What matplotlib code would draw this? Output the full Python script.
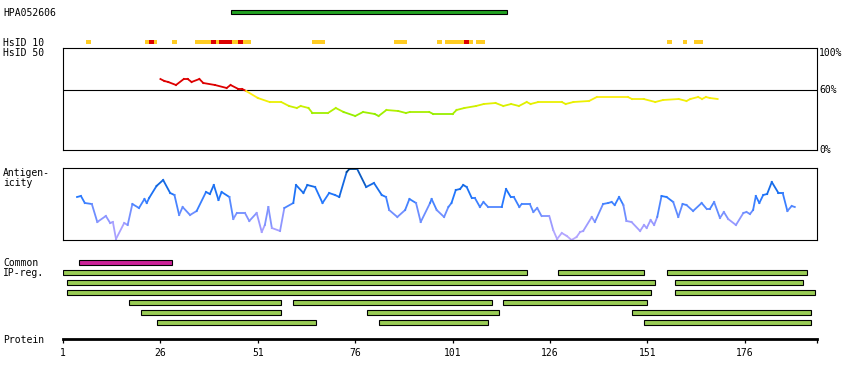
import matplotlib
matplotlib.use("Agg")
import matplotlib.pyplot as plt
import numpy as np
from matplotlib.collections import LineCollection
from matplotlib.colors import LinearSegmentedColormap

W, H = 850, 380
PLOT_L, PLOT_R = 63, 817
x_end = 194.5

hpa_name = "HPA052606"
hpa_range = (44, 115)

# HsID 10 windows, one block per residue
hsid10_yellow = [7, 22, 24, 29, 35, 36, 37, 38, 40, 44, 45, 47, 48, 65, 66, 67,
                 86, 87, 88, 97, 99, 100, 101, 102, 103, 105, 107, 108, 156, 160, 163, 164]
hsid10_red = [23, 39, 41, 42, 43, 46, 104]

# HsID 50 profile (% identity)
hsid50_pos = [26, 27, 28, 30, 32, 33, 34, 36, 37, 40, 43, 44, 46, 47, 48, 51, 54, 57, 59, 61,
              62, 64, 65, 69, 71, 73, 76, 78, 81, 82, 84, 87, 89, 90, 95, 96, 101, 102, 104, 107,
              109, 112, 114, 116, 118, 120, 121, 123, 129, 130, 132, 136, 138, 146, 147, 150, 153, 155, 159, 161,
              162, 164, 165, 166, 167, 169]
hsid50_val = [71, 69, 68, 65, 71, 71, 68, 71, 67, 65, 62, 65, 61, 61, 59, 52, 48, 48, 44, 42,
              44, 42, 37, 37, 42, 38, 34, 38, 36, 34, 40, 39, 37, 38, 38, 36, 36, 40, 42, 44,
              46, 47, 44, 46, 44, 48, 46, 48, 48, 46, 48, 49, 53, 53, 51, 51, 48, 50, 51, 49,
              51, 53, 51, 53, 52, 51]

# antigenicity profile (arbitrary units)
antigen_pos = [4.6, 5.6, 6.6, 8.4, 9.8, 12.0, 13.1, 13.8, 14.6, 16.7,
               17.6, 18.8, 20.5, 21.9, 22.5, 23.1, 25.0, 26.7, 28.5, 29.6,
               30.8, 31.7, 33.6, 35.3, 37.7, 38.7, 39.7, 40.9, 41.7, 43.7,
               44.7, 45.6, 47.7, 48.8, 50.7, 52.0, 52.8, 53.7, 54.6, 56.7,
               57.8, 60.1, 60.8, 62.7, 63.7, 65.7, 67.6, 69.3, 70.8, 71.9,
               73.8, 74.5, 76.5, 78.8, 80.8, 82.8, 83.9, 84.7, 86.8, 88.8,
               89.9, 91.6, 92.8, 95.2, 95.6, 96.9, 98.8, 99.9, 100.7, 101.8,
               102.9, 103.7, 104.6, 105.9, 106.7, 108.0, 108.9, 110.1, 113.6, 114.7,
               115.9, 116.7, 118.1, 118.7, 120.8, 121.7, 122.7, 123.8, 125.8, 126.8,
               127.8, 129.0, 130.3, 131.5, 132.8, 133.7, 134.5, 136.7, 137.5, 139.6,
               140.9, 141.8, 142.6, 143.7, 144.8, 145.6, 146.9, 149.1, 150.1, 150.8,
               151.8, 152.7, 153.5, 154.6, 155.9, 157.6, 158.9, 160.0, 161.0, 162.7,
               164.9, 166.2, 167.0, 168.1, 169.6, 170.6, 171.7, 173.7, 175.6, 176.4,
               177.3, 178.1, 178.8, 179.7, 180.7, 181.7, 182.9, 184.6, 185.7, 186.9,
               188.0, 188.8]
antigen_val = [43, 44, 37, 36, 18, 24, 17, 18, 1, 17,
               15, 36, 32, 41, 37, 42, 54, 60, 47, 45,
               25, 33, 25, 29, 48, 46, 55, 40, 48, 43,
               21, 27, 27, 19, 27, 8, 15, 33, 12, 9,
               32, 37, 55, 47, 55, 53, 37, 47, 45, 43,
               68, 71, 71, 53, 57, 45, 43, 30, 23, 30,
               41, 37, 18, 37, 41, 30, 23, 33, 37, 50,
               51, 55, 53, 42, 42, 33, 38, 33, 33, 51,
               43, 43, 33, 36, 36, 28, 32, 24, 24, 10,
               1, 7, 4, 0, 3, 8, 9, 23, 18, 36,
               37, 38, 35, 43, 35, 19, 18, 9, 15, 12,
               20, 15, 23, 44, 43, 38, 23, 36, 35, 29,
               37, 31, 31, 38, 22, 28, 21, 15, 27, 28,
               26, 30, 44, 37, 45, 46, 58, 47, 47, 29,
               34, 33]

common_reg = [(5, 29)]
ip_rows = [
    [(1, 120), (128, 150), (156, 192)],
    [(2, 153), (158, 191)],
    [(2, 152), (158, 194)],
    [(18, 57), (60, 111), (114, 151)],
    [(21, 57), (79, 113), (147, 193)],
    [(25, 66), (82, 110), (150, 193)],
]

tick_pos = [1, 26, 51, 76, 101, 126, 151, 176]

plt.rcParams['font.family'] = ['DejaVu Sans Mono']
plt.rcParams['font.size'] = 7

fig = plt.figure(figsize=(8.5, 3.8), dpi=100)


def band(top, bottom):
    ax = fig.add_axes([PLOT_L / W, 1 - bottom / H, (PLOT_R - PLOT_L) / W, (bottom - top) / H])
    ax.set_xlim(1, x_end)
    ax.set_xticks([])
    ax.set_yticks([])
    return ax


def hide_frame(ax):
    for s in ax.spines.values():
        s.set_visible(False)


def label(y, s):
    fig.text(3 / W, 1 - y / H, s, va='center', ha='left')


def colored_line(ax, xs, ys, colors, lw=1.3):
    pts = np.column_stack([xs, ys])
    segs = np.stack([pts[:-1], pts[1:]], axis=1)
    lc = LineCollection(segs, colors=colors, linewidths=lw, capstyle='projecting')
    ax.add_collection(lc)


# antibody bar
ax = band(6, 18)
hide_frame(ax)
ax.set_ylim(0, 1)
ax.barh(0.5, hpa_range[1] - hpa_range[0], left=hpa_range[0], height=0.4,
        color='#22A322', edgecolor='black', linewidth=0.8)
label(12.5, hpa_name)

# HsID 10 blocks
ax = band(38, 47)
hide_frame(ax)
ax.set_ylim(0, 1)
ax.bar(hsid10_yellow, 0.5, width=1.25, bottom=0.28, align='edge', color='#FFCC22', linewidth=0)
ax.bar(hsid10_red, 0.5, width=1.25, bottom=0.28, align='edge', color='#DD0000', linewidth=0)
label(42.5, "HsID 10")
label(52.5, "HsID 50")

# HsID 50 panel
ax = band(48, 150)
ax.set_ylim(0, 102)
for s in ax.spines.values():
    s.set_linewidth(0.8)
ax.axhline(60, color='black', lw=0.8)
hs_cmap = LinearSegmentedColormap.from_list('hs', ['#88EE00', '#BBF000', '#E8F000', '#FFEE11'])
hv = np.array(hsid50_val, dtype=float)
mids = (hv[:-1] + hv[1:]) / 2
hcols = [('#DD0000' if m >= 60 else hs_cmap(np.clip((m - 34) / 20, 0, 1))) for m in mids]
colored_line(ax, hsid50_pos, hv, hcols)
yt = ax.get_yaxis_transform()
ax.text(1.003, 102, "100%", transform=yt, va='top', ha='left')
ax.text(1.003, 60, "60%", transform=yt, va='center', ha='left')
ax.text(1.003, 0, "0%", transform=yt, va='center', ha='left')

# antigenicity panel
ax = band(168, 240)
ax.set_ylim(0, 72)
for s in ax.spines.values():
    s.set_linewidth(0.8)
ag_cmap = LinearSegmentedColormap.from_list('ag', [(0.0, '#BBAAFF'), (0.25, '#9999FF'), (0.45, '#5588FF'),
                                                   (0.6, '#2277FF'), (0.8, '#1166DD'), (1.0, '#004488')])
av = np.array(antigen_val, dtype=float)
amids = (av[:-1] + av[1:]) / 2
colored_line(ax, antigen_pos, av, [ag_cmap(m / 72) for m in amids])
label(173.5, "Antigen-")
label(183.5, "icity")

# common / IP regions
ax = band(257.5, 327.5)
hide_frame(ax)
ax.set_ylim(6.5, -0.5)
for a, b in common_reg:
    ax.barh(0, b - a, left=a, height=0.42, color='#CC2299', edgecolor='black', linewidth=0.8)
for i, row in enumerate(ip_rows, start=1):
    for a, b in row:
        ax.barh(i, b - a, left=a, height=0.45, color='#99CC55', edgecolor='black', linewidth=0.8)
label(262.5, "Common")
label(273, "IP-reg.")

# protein axis
ax = band(330, 339.3)
for k in ['top', 'left', 'right']:
    ax.spines[k].set_visible(False)
ax.spines['bottom'].set_linewidth(2.0)
ax.set_xticks(tick_pos)
ax.set_xticklabels([str(t) for t in tick_pos])
ax.set_xticks([x_end], minor=True)
ax.tick_params(axis='x', which='both', direction='out', length=3.2, width=0.9, pad=3, labelsize=7)
label(340, "Protein")

fig.savefig("out.png", dpi=100)
